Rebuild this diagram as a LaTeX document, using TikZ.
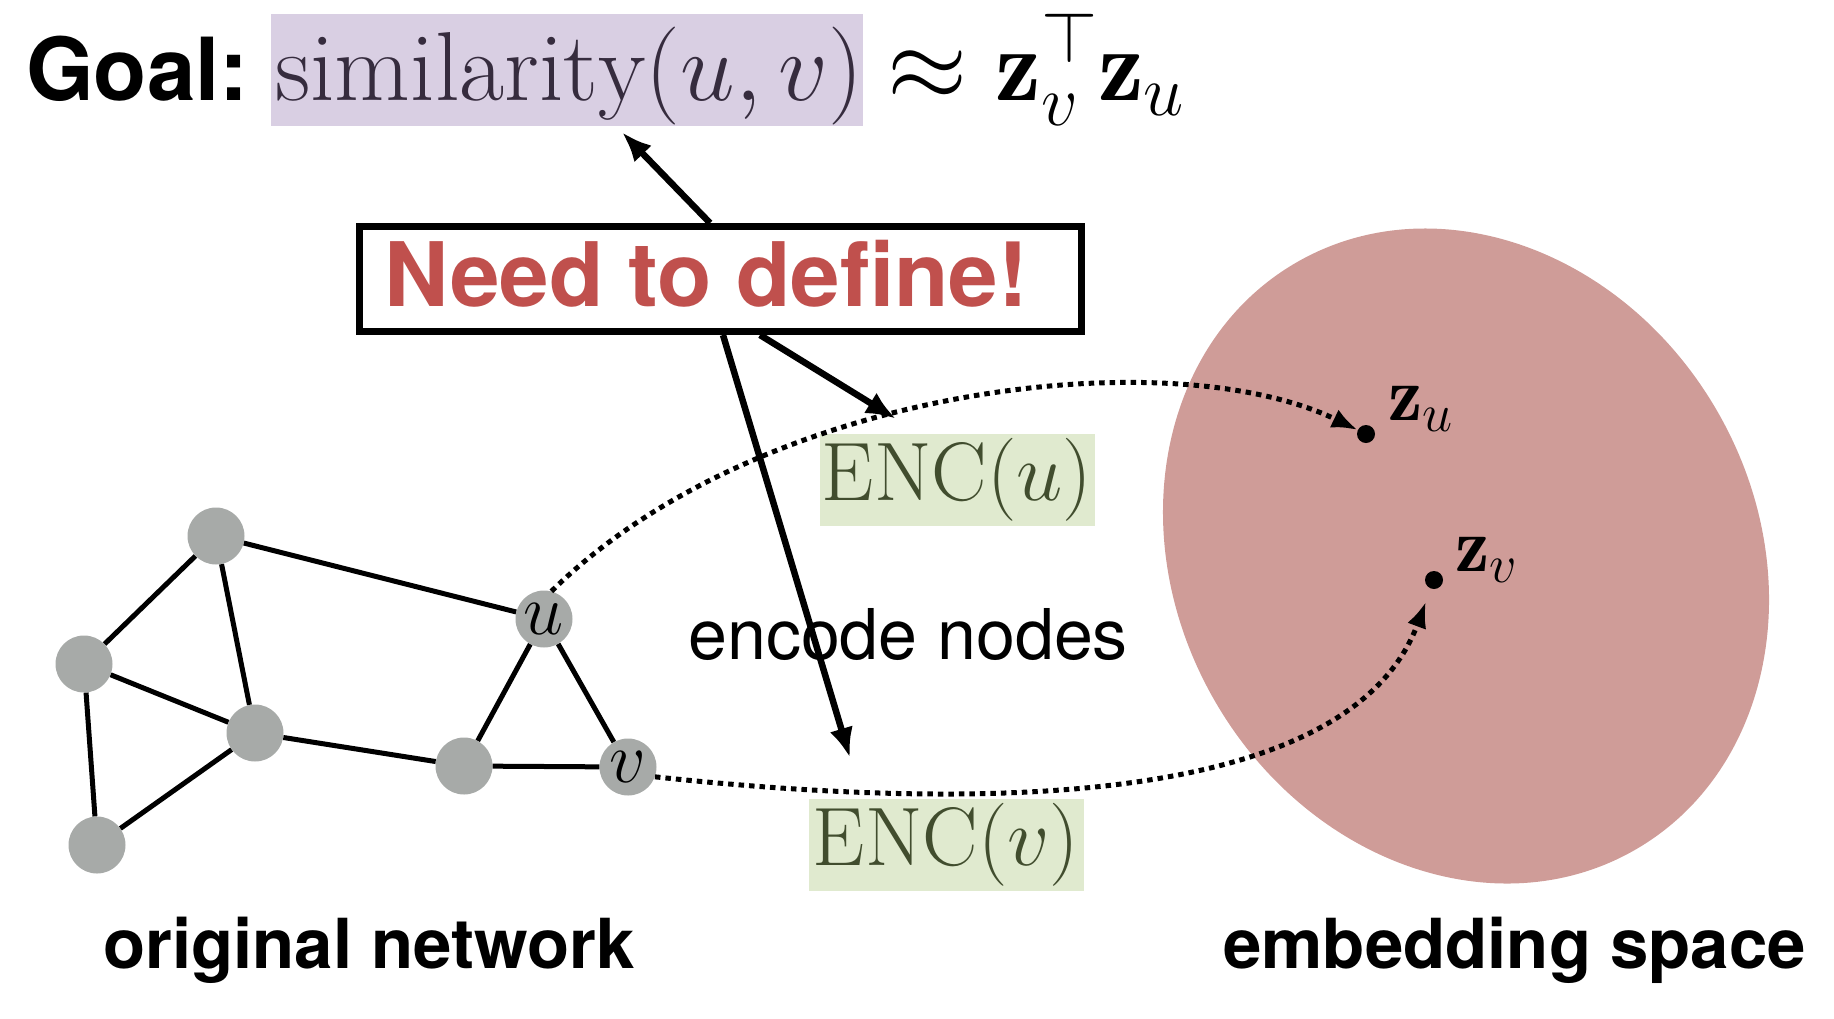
\RequirePackage{fix-cm}
\documentclass[tikz,border=0pt]{standalone}
\usepackage{fontspec}
\usetikzlibrary{arrows.meta}
\newfontfamily\hv{TeX Gyre Heros}
\definecolor{simbg}{HTML}{D9CFE3}
\definecolor{simtext}{HTML}{362C3E}
\definecolor{encbg}{HTML}{E0EACF}
\definecolor{enctext}{HTML}{414D2E}
\definecolor{needred}{HTML}{C0504D}
\definecolor{gnodec}{HTML}{A7AAA8}
\definecolor{embedc}{HTML}{CF9C98}
\begin{document}
\begin{tikzpicture}[x=1pt,y=-1pt,
  gn/.style={circle,fill=gnodec,minimum size=57pt,inner sep=0pt,font={\fontsize{72pt}{72pt}\selectfont}},
  gedge/.style={line width=5pt},
  darr/.style={line width=5pt,dash pattern=on 5.5pt off 5pt,-{Latex[length=26pt,width=20pt]}},
  sarr/.style={line width=6.5pt,-{Latex[length=30pt,width=24pt]}},
  encbox/.style={fill=encbg,text=enctext,minimum width=275pt,minimum height=92pt,inner sep=0pt,font={\fontsize{83pt}{86pt}\selectfont}},
  dotn/.style={circle,fill=black,minimum size=18pt,inner sep=0pt},
  zlab/.style={anchor=base west,inner sep=0pt,font={\fontsize{77pt}{80pt}\selectfont}},
  bigsans/.style={anchor=base west,inner sep=0pt,font={\hv\bfseries\fontsize{69pt}{72pt}\selectfont}},
  titlemath/.style={anchor=base west,inner sep=0pt,font={\fontsize{98pt}{100pt}\selectfont}},
]
\useasboundingbox (0,0) rectangle (1834,1018);

% embedding space
\fill[embedc,rotate around={30:(1466,556)}] (1466,556) ellipse [x radius=290pt, y radius=339pt];

% title
\node[anchor=base west,inner sep=0pt,font={\hv\bfseries\fontsize{87pt}{90pt}\selectfont}] (goal) at (26,100) {Goal:};
\node[fill=simbg,minimum width=592pt,minimum height=112pt,inner sep=0pt] (simbox) at (567,70) {};
\node[titlemath,text=simtext] (sim) at (275,100) {$\mathrm{similarity}(u,v)$};
\node[titlemath,font={\fontsize{103pt}{106pt}\selectfont}] (approx) at (887,100) {$\approx\mathbf{z}_v^{\top}\mathbf{z}_u$};

% encoder boxes
\node[encbox] (encu) at (957,480) {$\mathrm{ENC}(u)$};
\node[encbox] (encv) at (946,845) {$\mathrm{ENC}(v)$};

% need to define
\node[draw,line width=7pt,fill=white,minimum width=722pt,minimum height=105pt,inner sep=0pt] (need) at (720,279) {};
\node[anchor=base west,inner sep=0pt,text=needred,font={\hv\bfseries\fontsize{89pt}{92pt}\selectfont}] (needt) at (384,306) {Need to define!};

\node[anchor=base west,inner sep=0pt,font={\hv\fontsize{70pt}{72pt}\selectfont}] (enclab) at (688,659) {encode nodes};

% graph
\node[gn] (n1) at (216,536) {};
\node[gn] (n2) at (84,664) {};
\node[gn] (n3) at (255,733) {};
\node[gn] (n4) at (97,845) {};
\node[gn] (n5) at (464,766) {};
\node[gn] (u) at (544,619) {$u$};
\node[gn] (v) at (628,767) {$v$};
\draw[gedge] (n1)--(n2) (n1)--(n3) (n1)--(u) (n2)--(n3) (n2)--(n4) (n3)--(n4)
  (n3)--(n5) (n5)--(u) (n5)--(v) (u)--(v);

% embedding points
\node[dotn] (zu) at (1366,434) {};
\node[dotn] (zv) at (1434,580) {};
\node[zlab] (zul) at (1388,420) {$\mathbf{z}_u$};
\node[zlab] (zvl) at (1455,571) {$\mathbf{z}_v$};

% dotted arrows
\draw[darr] (u.75) .. controls (760,386) and (1170,339) .. (zu);
\draw[darr,shorten >=14pt] (v.-20) .. controls (936,807) and (1345,819) .. (zv);

% solid arrows
\draw[sarr] ([xshift=-10pt]need.north) -- ([xshift=55pt,yshift=-6pt]simbox.south);
\draw[sarr] ([xshift=40pt]need.south) -- ([xshift=-61pt,yshift=15pt]encu.north);
\draw[sarr] ([xshift=3pt]need.south) -- ([xshift=-96pt,yshift=41pt]encv.north);

% bottom labels
\node[bigsans] (orig) at (103,968) {original network};
\node[bigsans] (emb) at (1223,968) {embedding space};
\end{tikzpicture}
\end{document}
